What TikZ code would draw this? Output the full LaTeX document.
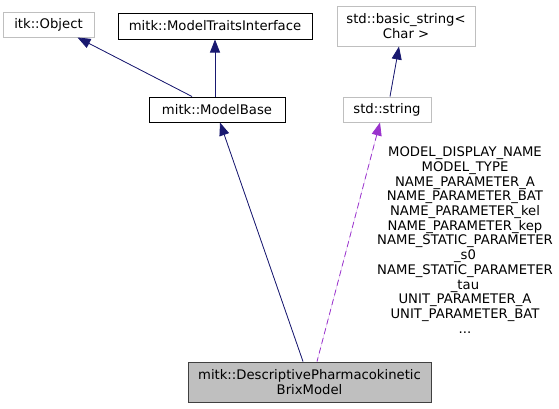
\documentclass[tikz,border=0pt]{standalone}
\usepackage{fontspec}
\setmainfont{DejaVu Sans}
\usetikzlibrary{arrows.meta}
\definecolor{cnavy}{HTML}{191970}
\definecolor{cpurple}{HTML}{9A32CD}
\definecolor{cgrey}{HTML}{BFBFBF}
\definecolor{cdark}{HTML}{404040}
\tikzset{
  every picture/.style={line width=0.8pt},
  every node/.style={font=\fontsize{13.2}{14.7}\selectfont, align=center, inner sep=0pt},
  cls/.style={draw=#1, fill=white, line width=1pt},
  cls/.default=black,
  focus/.style={draw=cdark, fill=cgrey, line width=1pt},
  inherit/.style={{Triangle[length=13pt, width=10pt]}-, draw=cnavy, fill=cnavy},
  uses/.style={{Triangle[length=13pt, width=10pt]}-, draw=cpurple, fill=cpurple, dashed, dash pattern=on 6pt off 4pt},
}

\begin{document}
\begin{tikzpicture}[x=1pt, y=-1pt]
  \useasboundingbox (0,0) rectangle (559,408);
  % classes
  \node[cls=cgrey, minimum width=91pt, minimum height=25pt] (obj) at (48.5,24.5) {itk::Object};
  \node[cls, minimum width=194pt, minimum height=26pt] (traits) at (215,26) {mitk::ModelTraitsInterface};
  \node[cls, minimum width=136pt, minimum height=25pt] (base) at (217,109.5) {mitk::ModelBase};
  \node[cls=cgrey, minimum width=138pt, minimum height=40pt] (bstr) at (406,26) {std::basic\_string<\\Char >};
  \node[cls=cgrey, minimum width=88pt, minimum height=25pt] (str) at (387,109.5) {std::string};
  \node[focus, minimum width=243pt, minimum height=40pt] (brix) at (309.5,382) {mitk::DescriptivePharmacokinetic\\BrixModel};
  % edges
  \draw[inherit] ([xshift=29pt]obj.south) -- ([xshift=-25pt]base.north);
  \draw[inherit] (traits.south) -- ([xshift=-2pt]base.north);
  \draw[inherit] ([xshift=3pt]base.south) -- ([xshift=-6.5pt]brix.north);
  \draw[inherit] ([xshift=-7pt]bstr.south) -- ([xshift=3pt]str.north);
  \draw[uses] ([xshift=-7pt]str.south) -- ([xshift=7.5pt]brix.north);
  \node (members) at (465,240) {MODEL\_DISPLAY\_NAME\\MODEL\_TYPE\\NAME\_PARAMETER\_A\\NAME\_PARAMETER\_BAT\\NAME\_PARAMETER\_kel\\NAME\_PARAMETER\_kep\\NAME\_STATIC\_PARAMETER\\\_s0\\NAME\_STATIC\_PARAMETER\\\_tau\\UNIT\_PARAMETER\_A\\UNIT\_PARAMETER\_BAT\\...};
\end{tikzpicture}
\end{document}
